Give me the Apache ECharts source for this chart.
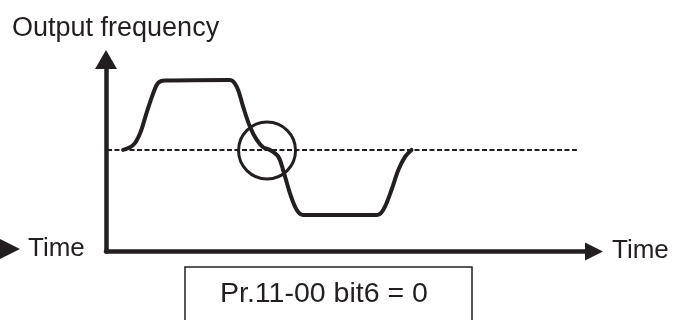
<!DOCTYPE html>
<html>

<head>
  <meta charset="utf-8">
  <title>Output frequency</title>
  <script src="https://cdn.jsdelivr.net/npm/echarts@6/dist/echarts.min.js"></script>
  <style>
    html, body { margin: 0; padding: 0; background: #fff; }
    #main { width: 674px; height: 320px; }
  </style>
</head>

<body>
  <div id="main"></div>
  <script type="text/javascript">
    // curve (time, frequency in arbitrary units)
    var timeVals = [3.5, 5.6, 7.0, 8.3, 9.7, 10.7, 12.1, 25.4, 26.8, 28.1, 29.5, 30.9, 32.2, 33.6, 35.3, 36.3, 37.7, 39.1, 40.4, 55.5, 56.8, 58.5, 59.9, 61.3, 62.6];
    var freqVals = [52.9, 55.5, 61.7, 72.1, 82.6, 87.8, 89.0, 89.3, 85.8, 75.4, 65.0, 58.1, 54.3, 52.9, 49.4, 42.4, 30.3, 21.6, 19.0, 19.0, 21.6, 32.0, 42.4, 49.4, 52.9];
    // dashed reference level
    var refTime = [0.2, 96.5];
    var refFreq = [52.9, 52.9];
    // circled point
    var markTime = [33.0];
    var markFreq = [52.6];

    var ink = '#231f20';
    var font = 'Liberation Sans, Arial, sans-serif';

    function pairs(xs, ys) {
      var out = [];
      for (var i = 0; i < xs.length; i++) {
        out.push([xs[i], ys[i]]);
      }
      return out;
    }

    var myChart = echarts.init(document.getElementById('main'), null, { renderer: 'canvas' });

    var option = {
      animation: false,
      backgroundColor: '#fff',
      grid: {
        left: 106,
        top: 59.5,
        width: 488,
        height: 192,
        outerBoundsMode: 'none'
      },
      xAxis: {
        type: 'value',
        min: 0,
        max: 100,
        axisLine: {
          show: true,
          symbol: ['none', 'triangle'],
          symbolSize: [18, 18],
          lineStyle: { color: ink, width: 4.5 }
        },
        axisTick: { show: false },
        axisLabel: { show: false },
        splitLine: { show: false }
      },
      yAxis: {
        type: 'value',
        min: 0,
        max: 100,
        axisLine: {
          show: true,
          symbol: ['none', 'triangle'],
          symbolSize: [22, 19],
          lineStyle: { color: ink, width: 4.5 }
        },
        axisTick: { show: false },
        axisLabel: { show: false },
        splitLine: { show: false }
      },
      series: [
        {
          name: 'ref',
          type: 'line',
          data: pairs(refTime, refFreq),
          symbol: 'none',
          lineStyle: { color: ink, width: 2, type: [5, 2.5] },
          z: 2
        },
        {
          name: 'frequency',
          type: 'line',
          data: pairs(timeVals, freqVals),
          symbol: 'none',
          smooth: 0.35,
          lineStyle: { color: ink, width: 4, cap: 'round', join: 'round' },
          z: 3
        },
        {
          name: 'mark',
          type: 'scatter',
          data: pairs(markTime, markFreq),
          symbol: 'circle',
          symbolSize: 57,
          itemStyle: { color: 'rgba(0,0,0,0)', borderColor: ink, borderWidth: 3, opacity: 1 },
          z: 4
        }
      ],
      graphic: [
        {
          type: 'text',
          left: 12,
          top: 15.5,
          style: { text: 'Output frequency', font: '27px ' + font, fill: ink }
        },
        {
          type: 'polygon',
          shape: { points: [[-2, 238], [20, 249], [-2, 260]] },
          style: { fill: ink }
        },
        {
          type: 'text',
          left: 28,
          top: 236,
          style: { text: 'Time', font: '26px ' + font, fill: ink }
        },
        {
          type: 'text',
          left: 612,
          top: 238,
          style: { text: 'Time', font: '26px ' + font, fill: ink }
        },
        {
          type: 'rect',
          shape: { x: 185, y: 267, width: 287, height: 70 },
          style: { fill: 'none', stroke: ink, lineWidth: 1.5 }
        },
        {
          type: 'text',
          left: 220,
          top: 280,
          style: { text: 'Pr.11-00 bit6 = 0', font: '28.5px ' + font, fill: ink }
        }
      ]
    };

    myChart.setOption(option);
  </script>
</body>

</html>
